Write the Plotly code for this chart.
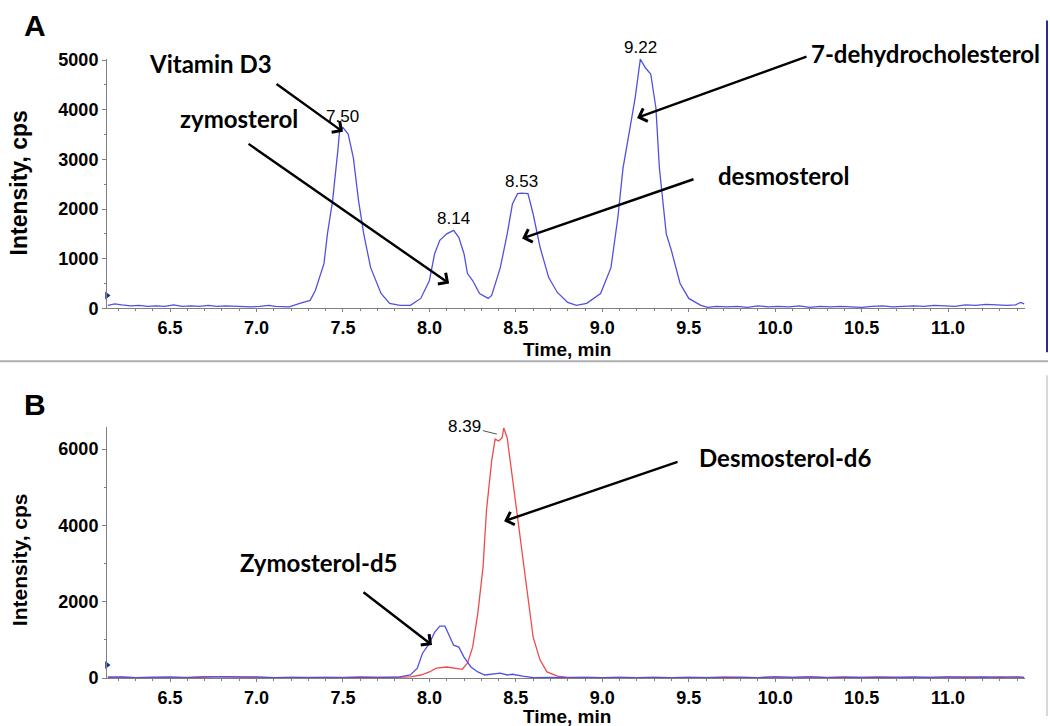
import plotly.graph_objects as go

# ---------------- DATA ----------------
# Panel A: total ion chromatogram (blue)
time_a = [6.14, 6.18, 6.22, 6.27, 6.32, 6.37, 6.42, 6.47, 6.52, 6.57, 6.62, 6.67, 6.72,
          6.77, 6.82, 6.87, 6.92, 6.97, 7.02, 7.07, 7.11, 7.15, 7.19, 7.25, 7.31, 7.34,
          7.37, 7.39, 7.41, 7.44, 7.47, 7.48, 7.50, 7.53, 7.56, 7.59, 7.62, 7.66, 7.72,
          7.77, 7.83, 7.89, 7.95, 8.00, 8.03, 8.06, 8.10, 8.14, 8.17, 8.20, 8.22, 8.25,
          8.29, 8.34, 8.36, 8.41, 8.45, 8.48, 8.51, 8.53, 8.57, 8.60, 8.64, 8.69, 8.74,
          8.80, 8.85, 8.91, 8.99, 9.05, 9.09, 9.12, 9.16, 9.19, 9.22, 9.25, 9.28, 9.31,
          9.33, 9.37, 9.40, 9.45, 9.50, 9.57, 9.61, 9.66, 9.72, 9.78, 9.84, 9.90, 9.96,
          10.02, 10.08, 10.14, 10.20, 10.26, 10.32, 10.38, 10.44, 10.50, 10.56, 10.62,
          10.68, 10.74, 10.80, 10.86, 10.92, 10.98, 11.04, 11.10, 11.16, 11.22, 11.28,
          11.34, 11.39, 11.42, 11.44]
intensity_a = [60, 90, 70, 50, 60, 40, 50, 40, 70, 40, 50, 40, 60,
               40, 50, 40, 40, 30, 40, 60, 40, 30, 30, 100, 160, 360,
               700, 900, 1500, 2170, 3170, 3560, 3640, 3510, 3030, 2170, 1500, 820, 300,
               100, 60, 60, 200, 560, 1100, 1370, 1500, 1570, 1430, 1100, 700, 560,
               300, 200, 260, 820, 1500, 2100, 2310, 2320, 2310, 1900, 1230, 620, 320,
               120, 60, 100, 300, 820, 1830, 2830, 3630, 4240, 5020, 4840, 4720, 4040,
               2830, 1500, 1160, 500, 200, 60, 20, 40, 30, 40, 20, 50, 30,
               40, 30, 50, 20, 40, 30, 40, 30, 20, 40, 50,
               30, 40, 50, 40, 60, 50, 40, 70, 60, 80, 70,
               60, 70, 120, 90]

# Panel B: Zymosterol-d5 (blue) and Desmosterol-d6 (red)
time_b_blue = [6.14, 6.22, 6.30, 6.40, 6.50, 6.60, 6.70, 6.80, 6.90, 7.00, 7.10, 7.20,
               7.30, 7.40, 7.50, 7.60, 7.70, 7.78, 7.83, 7.89, 7.93, 7.96, 8.00, 8.03,
               8.06, 8.09, 8.12, 8.14, 8.17, 8.20, 8.24, 8.28, 8.32, 8.41, 8.45, 8.48,
               8.54, 8.60, 8.70, 8.80, 8.90, 9.00, 9.10, 9.20, 9.30, 9.40, 9.50, 9.60,
               9.70, 9.80, 9.90, 10.00, 10.10, 10.20, 10.30, 10.40, 10.50, 10.60, 10.70,
               10.80, 10.90, 11.00, 11.10, 11.20, 11.30, 11.40, 11.44]
intensity_b_blue = [20, 30, 10, 20, 30, 10, 20, 40, 30, 30, 10, 20,
                    10, 20, 10, 20, 10, 20, 30, 80, 260, 650, 910, 1200,
                    1360, 1360, 1070, 860, 810, 550, 290, 160, 80, 130, 80, 100,
                    50, 10, 20, 10, 20, 10, 20, 10, 20, 10, 20, 10,
                    10, 20, 10, 30, 20, 30, 10, 20, 20, 10, 20,
                    30, 20, 30, 20, 30, 20, 30, 20]

time_b_red = [6.14, 6.22, 6.30, 6.40, 6.50, 6.60, 6.70, 6.80, 6.90, 7.00, 7.10, 7.20,
              7.30, 7.40, 7.50, 7.60, 7.70, 7.80, 7.89, 7.95, 8.00, 8.04, 8.10, 8.16,
              8.19, 8.22, 8.25, 8.28, 8.31, 8.33, 8.36, 8.38, 8.40, 8.42, 8.43, 8.45,
              8.48, 8.51, 8.54, 8.57, 8.60, 8.64, 8.68, 8.74, 8.80, 8.90, 9.00, 9.10,
              9.20, 9.30, 9.40, 9.50, 9.60, 9.70, 9.80, 9.90, 10.00, 10.10, 10.20,
              10.30, 10.40, 10.50, 10.60, 10.70, 10.80, 10.90, 11.00, 11.10, 11.20,
              11.30, 11.40, 11.44]
intensity_b_red = [30, 20, 10, 20, 10, 20, 40, 30, 20, 20, 10, 20,
                   20, 10, 20, 30, 20, 20, 30, 80, 160, 260, 290, 260,
                   230, 390, 810, 1700, 2900, 4390, 5690, 6260, 6210, 6290, 6550, 6290,
                   5250, 4200, 3080, 2040, 1070, 470, 160, 50, 20, 20, 10, 20,
                   10, 20, 10, 20, 10, 30, 20, 10, 30, 20, 30,
                   20, 30, 20, 30, 20, 10, 20, 30, 30, 20,
                   30, 20, 20]

x_ticks = [6.5, 7.0, 7.5, 8.0, 8.5, 9.0, 9.5, 10.0, 10.5, 11.0]
x_tick_text = ["6.5", "7.0", "7.5", "8.0", "8.5", "9.0", "9.5", "10.0", "10.5", "11.0"]
y_ticks_a = [0, 1000, 2000, 3000, 4000, 5000]
y_ticks_b = [0, 2000, 4000, 6000]

# Peak apex labels (retention time, intensity)
peaks_a = [(7.50, 3640, "7.50"), (8.14, 1570, "8.14"), (8.53, 2320, "8.53"), (9.22, 5020, "9.22")]
peak_b = (8.39, 6390, "8.39")
threshold_a = 260
threshold_b = 340

# ---------------- FIGURE ----------------
W, H = 1050, 726
BLUE = "rgb(80,80,225)"
RED = "rgb(238,75,75)"
AXC = "#808080"
TICKFONT = dict(family="Arial, Liberation Sans", size=18, color="black", weight="bold")
XRANGE = [6.135, 11.445]
VY0, VYS = 7.4, 0.976   # observed vertical mapping of the photographed page


def px(x):
    return x / W


def py(y):
    return 1 - ((y - VY0) / VYS) / H


fig = go.Figure()
fig.add_trace(go.Scatter(x=time_a, y=intensity_a, mode="lines",
                         line=dict(color=BLUE, width=1.3), xaxis="x", yaxis="y",
                         hoverinfo="skip", showlegend=False))
fig.add_trace(go.Scatter(x=time_b_red, y=intensity_b_red, mode="lines",
                         line=dict(color=RED, width=1.3), xaxis="x2", yaxis="y2",
                         hoverinfo="skip", showlegend=False))
fig.add_trace(go.Scatter(x=time_b_blue, y=intensity_b_blue, mode="lines",
                         line=dict(color=BLUE, width=1.3), xaxis="x2", yaxis="y2",
                         hoverinfo="skip", showlegend=False))
# threshold markers on the y axes
fig.add_trace(go.Scatter(x=[XRANGE[0]], y=[threshold_a], mode="markers", xaxis="x", yaxis="y",
                         marker=dict(symbol="triangle-right", size=7, color="#1a2a9a"),
                         cliponaxis=False, hoverinfo="skip", showlegend=False))
fig.add_trace(go.Scatter(x=[XRANGE[0]], y=[threshold_b], mode="markers", xaxis="x2", yaxis="y2",
                         marker=dict(symbol="triangle-right", size=7, color="#1a2a9a"),
                         cliponaxis=False, hoverinfo="skip", showlegend=False))

common_x = dict(range=XRANGE, tickvals=x_ticks, ticktext=x_tick_text, showgrid=False,
                zeroline=False, showline=True, linecolor=AXC, linewidth=1,
                ticks="outside", ticklen=3, tickcolor=AXC, tickfont=TICKFONT,
                minor=dict(dtick=0.1, tick0=6.5, ticks="outside", ticklen=2, tickcolor=AXC))
common_y = dict(showgrid=False, zeroline=False, showline=True, linecolor=AXC, linewidth=1,
                ticks="outside", ticklen=4, tickcolor=AXC, tickfont=TICKFONT)

fig.update_layout(
    width=W, height=H, margin=dict(l=0, r=0, t=0, b=0),
    paper_bgcolor="white", plot_bgcolor="white",
    xaxis=dict(domain=[px(107), px(1025)], anchor="y", **common_x),
    yaxis=dict(domain=[py(308), py(58)], anchor="x", range=[0, 5030], tickvals=y_ticks_a,
               minor=dict(dtick=500, ticks="outside", ticklen=2, tickcolor=AXC), **common_y),
    xaxis2=dict(domain=[px(107), px(1025)], anchor="y2", **common_x),
    yaxis2=dict(domain=[py(678), py(427)], anchor="x2", range=[0, 6570], tickvals=y_ticks_b,
                minor=dict(dtick=1000, ticks="outside", ticklen=2, tickcolor=AXC), **common_y),
)

ann = []
LABFONT = dict(family="Lato", size=24, color="black", weight="bold")
PEAKFONT = dict(family="Arial, Liberation Sans", size=17, color="black")
C = dict(xanchor="center", yanchor="middle", xref="paper", yref="paper", showarrow=False)

# panel letters
ann.append(dict(text="A", x=px(35), y=py(25), **C,
                font=dict(family="Arial, Liberation Sans", size=30, color="black", weight="bold")))
ann.append(dict(text="B", x=px(35), y=py(404), **C,
                font=dict(family="Arial, Liberation Sans", size=30, color="black", weight="bold")))
# axis titles
ann.append(dict(text="Intensity, cps", x=px(19), y=py(183), textangle=-90, **C,
                font=dict(family="Arial, Liberation Sans", size=23, color="black", weight="bold")))
ann.append(dict(text="Intensity, cps", x=px(19), y=py(560), textangle=-90, **C,
                font=dict(family="Arial, Liberation Sans", size=21, color="black", weight="bold")))
XT = dict(family="Arial, Liberation Sans", size=19, color="black", weight="bold")
ann.append(dict(text="Time, min", x=px(567), y=py(349), font=XT, **C))
ann.append(dict(text="Time, min", x=px(567), y=py(716), font=XT, **C))

# peak labels
for t, v, s in peaks_a:
    ann.append(dict(text=s, x=t, y=v, xref="x", yref="y", showarrow=False,
                    xanchor="center", yanchor="bottom", yshift=0, font=PEAKFONT))
ann.append(dict(text=peak_b[2], x=peak_b[0], y=peak_b[1], xref="x2", yref="y2",
                showarrow=True, arrowhead=0, arrowwidth=1, arrowcolor="#555",
                ax=-32, ay=-8, font=PEAKFONT))

# compound labels (text)
labels = [("Vitamin D3", 210, 63), ("zymosterol", 239, 118), ("desmosterol", 783, 175),
          ("7-dehydrocholesterol", 925, 53), ("Zymosterol-d5", 318, 562),
          ("Desmosterol-d6", 785, 457)]
for s, xx, yy in labels:
    ann.append(dict(text=s, x=px(xx), y=py(yy), font=LABFONT, **C))

# arrows: (head x, head y, tail x, tail y, axis)
arrows = [(7.50, 3554, 7.107, 4538, ""), (8.114, 502, 6.945, 3333, ""),
          (8.536, 1406, 9.536, 2610, ""), (9.201, 3835, 10.19, 5080, ""),
          (8.015, 864, 7.610, 2277, "2"), (8.432, 4109, 9.444, 5679, "2")]
for hx, hy, tx, ty, a in arrows:
    ann.append(dict(text="", x=hx, y=hy, ax=tx, ay=ty, xref="x" + a, yref="y" + a,
                    axref="x" + a, ayref="y" + a, showarrow=True, arrowhead=4,
                    arrowsize=1.1, arrowwidth=2.4, arrowcolor="black"))

fig.update_layout(annotations=ann)

# frame lines
fig.add_shape(type="line", xref="paper", yref="paper", x0=0, x1=px(1048), y0=py(361), y1=py(361),
              line=dict(color="#b0b0b0", width=2))
fig.add_shape(type="line", xref="paper", yref="paper", x0=px(1047), x1=px(1047), y0=py(20), y1=py(352),
              line=dict(color="#2a2a90", width=2))
fig.add_shape(type="line", xref="paper", yref="paper", x0=px(1047), x1=px(1047), y0=py(375), y1=0,
              line=dict(color="#d8d8d8", width=2))

fig.write_html(
    "out.html",
    config={"displayModeBar": False, "staticPlot": True},
    post_script=("var d=document.getElementById('{plot_id}');"
                 "d.style.position='fixed';d.style.top='0px';d.style.left='0px';"
                 "document.body.style.margin='0';"),
)
